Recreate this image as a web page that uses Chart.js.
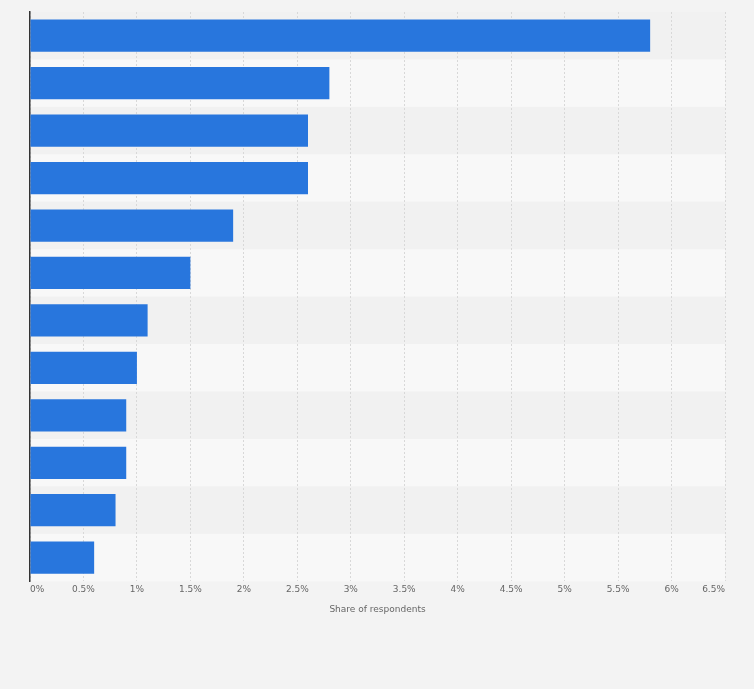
<!DOCTYPE html>
<html>
<head>
<meta charset="utf-8">
<script src="https://cdn.jsdelivr.net/npm/chart.js@4"></script>
<style>
  html, body { margin: 0; padding: 0; background: #f3f3f3; }
  #wrap { width: 754px; height: 689px; }
</style>
</head>
<body>
<div id="wrap"><canvas id="chart" width="754" height="689"></canvas></div>
<script>
const categories = ['', '', '', '', '', '', '', '', '', '', '', ''];
const shares = [5.8, 2.8, 2.6, 2.6, 1.9, 1.5, 1.1, 1.0, 0.9, 0.9, 0.8, 0.6];

// alternating row bands behind the bars
const rowBands = {
  id: 'rowBands',
  beforeDraw(chart) {
    const { ctx, chartArea, scales } = chart;
    const y = scales.y;
    const step = (chartArea.bottom - chartArea.top) / categories.length;
    ctx.save();
    categories.forEach((c, i) => {
      const top = y.getPixelForValue(i) - step / 2;
      ctx.fillStyle = i % 2 === 0 ? '#f1f1f1' : '#f8f8f8';
      ctx.fillRect(chartArea.left, top, chartArea.right - chartArea.left, step);
    });
    ctx.restore();
  }
};

new Chart(document.getElementById('chart').getContext('2d'), {
  type: 'bar',
  data: {
    labels: categories,
    datasets: [{
      data: shares,
      backgroundColor: '#2876dd',
      barPercentage: 0.68,
      categoryPercentage: 1
    }]
  },
  options: {
    indexAxis: 'y',
    responsive: false,
    animation: false,
    layout: { padding: { left: 22, right: 29, top: 12, bottom: 70 } },
    plugins: { legend: { display: false }, tooltip: { enabled: false } },
    scales: {
      x: {
        min: 0, max: 6.5,
        ticks: {
          stepSize: 0.5,
          align: 'inner',
          color: '#666',
          font: { family: 'DejaVu Sans', size: 9 },
          callback: v => v + '%'
        },
        grid: { color: '#d8d8d8', borderDash: [2, 2], drawTicks: false, tickLength: 0 },
        border: { display: false, dash: [2, 2] },
        title: { display: true, text: 'Share of respondents', color: '#666', font: { family: 'DejaVu Sans', size: 9 }, padding: { top: 6 } }
      },
      y: {
        ticks: { display: false },
        grid: { display: false },
        border: { color: '#333', width: 1.5 }
      }
    }
  },
  plugins: [rowBands]
});
</script>
</body>
</html>
